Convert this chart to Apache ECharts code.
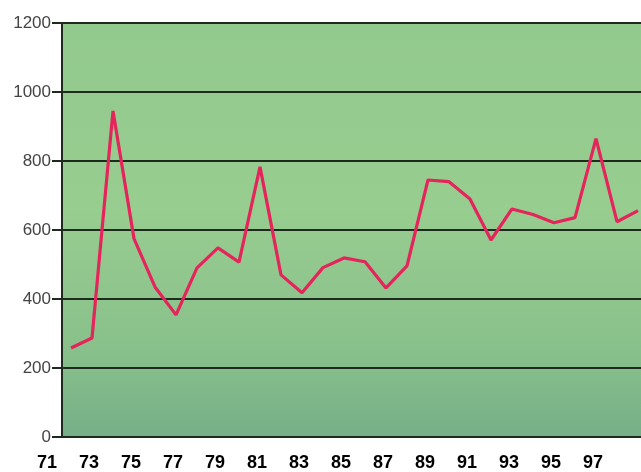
<!DOCTYPE html>
<html>
<head>
<meta charset="utf-8">
<script src="https://cdn.jsdelivr.net/npm/echarts@6/dist/echarts.min.js"></script>
<style>
html,body{margin:0;padding:0;background:#fff;}
#c{width:641px;height:472px;}
</style>
</head>
<body>
<div id="c"></div>
<script>
const years = [72,73,74,75,76,77,78,79,80,81,82,83,84,85,86,87,88,89,90,91,92,93,94,95,96,97,98,99];
const values = [258,287,945,575,435,354,490,548,507,783,470,418,491,519,508,432,496,745,740,690,571,661,645,621,636,865,624,656];
const yTicks = [0,200,400,600,800,1000,1200];
const xTickYears = [71,73,75,77,79,81,83,85,87,89,91,93,95,97];

const chart = echarts.init(document.getElementById('c'));
chart.setOption({
  animation: false,
  backgroundColor: '#ffffff',
  grid: [
    {left: 62, right: 0, top: 23, bottom: 35, show: true, borderWidth: 0,
     backgroundColor: {type:'linear', x:0, y:0, x2:0, y2:1, colorStops:[
       {offset:0, color:'#92c98c'},{offset:0.45, color:'#98cd90'},{offset:0.8, color:'#88c08b'},{offset:1, color:'#76ae88'}]}},
    {left: 47, right: 0, top: 23, bottom: 35}
  ],
  xAxis: [
    {type:'value', gridIndex:0, min: 71 + 12/21, max: 71 + 591/21,
     axisLine:{show:true, onZero:false, lineStyle:{color:'#1e2a1e', width:2}},
     axisTick:{show:false}, axisLabel:{show:false}, splitLine:{show:false}},
    {type:'value', gridIndex:1, min: 71, max: 71 + 594/21, interval: 2,
     axisLine:{show:false}, axisTick:{show:false}, splitLine:{show:false},
     axisLabel:{show:true, margin: 18, color:'#000', fontSize:18, fontWeight:'bold', fontFamily:'Liberation Sans, Arial, sans-serif',
       formatter: v => xTickYears.includes(v) ? String(v) : '',
       showMaxLabel:false}}
  ],
  yAxis: [
    {type:'value', gridIndex:0, min: yTicks[0], max: yTicks[yTicks.length-1], interval: 200,
     axisLine:{show:true, lineStyle:{color:'#1e2a1e', width:2}},
     axisTick:{show:true, length:10, lineStyle:{color:'#1e2a1e', width:2}},
     axisLabel:{margin:11, color:'#444', fontSize:17, fontFamily:'Liberation Sans, Arial, sans-serif',
       formatter: v => String(v)},
     splitLine:{show:true, lineStyle:{color:'#1e2a1e', width:2}}},
    {type:'value', gridIndex:1, show:false, min:0, max:1200}
  ],
  series: [{
    type:'line', xAxisIndex:0, yAxisIndex:0,
    data: years.map((y,i)=>[y, values[i]]),
    symbol:'none',
    lineStyle:{color:'#e6245c', width:3.2},
    clip: true
  }]
});
</script>
</body>
</html>
